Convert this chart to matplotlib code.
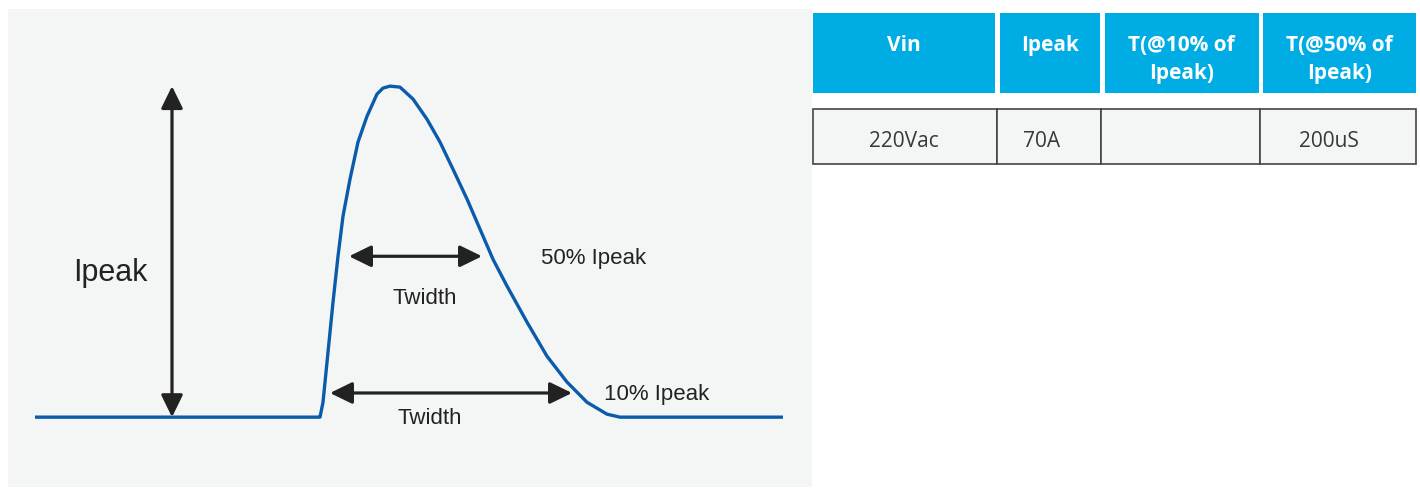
import matplotlib
matplotlib.use("Agg")
import matplotlib.pyplot as plt
from matplotlib.patches import Rectangle

plt.rcParams['font.family'] = ['Liberation Sans', 'DejaVu Sans']

# pulse shape, time (arbitrary units from pulse start) vs current (% of Ipeak)
pulse_t = [-283, 0, 2, 5, 10, 15, 20, 25, 32, 40, 49, 59, 65, 72, 82, 95, 109,
           122, 135, 149, 165, 175, 189, 209, 229, 249, 269, 289, 302, 465]
pulse_i = [0, 0, 0, 4.5, 19.6, 34.7, 48.6, 60.7, 71.9, 83.1, 90.9, 97.6, 99.4,
           100, 99.7, 96.1, 90.0, 83.1, 74.9, 65.9, 54.7, 47.7, 39.6, 28.7,
           18.4, 10.6, 4.5, 0.9, 0, 0]

# table contents
headers = ["Vin", "Ipeak", "T(@10% of\nIpeak)", "T(@50% of\nIpeak)"]
row = ["220Vac", "70A", "", "200uS"]

W, H = 1420, 489
fig = plt.figure(figsize=(W / 100, H / 100), dpi=100)

# ---- left panel: pulse sketch
ax = fig.add_axes([8 / W, 1 - 488 / H, 804 / W, 478 / H])
ax.set_facecolor("#f4f6f6")
ax.set_xlim(-310, 494)
ax.set_ylim(-21.1, 123.3)
for s in ax.spines.values():
    s.set_visible(False)
ax.set_xticks([])
ax.set_yticks([])

ax.plot(pulse_t, pulse_i, color="#0b5bab", lw=2.4, solid_joinstyle="round",
        solid_capstyle="butt")

arrow = dict(arrowstyle="<|-|>,head_length=0.45,head_width=0.22",
             color="#222222", lw=2.3, mutation_scale=30, shrinkA=0, shrinkB=0)
ax.annotate("", xy=(-146, 100), xytext=(-146, 0), arrowprops=arrow)
ax.annotate("", xy=(31, 48.6), xytext=(164, 48.6), arrowprops=arrow)
ax.annotate("", xy=(12, 7.3), xytext=(254, 7.3), arrowprops=arrow)

txt = dict(color="#222222", ha="center", va="center")
ax.text(-208, 43.8, "Ipeak", fontsize=22, **txt)
ax.text(276, 48.3, "50% Ipeak", fontsize=16, **txt)
ax.text(107, 36.0, "Twidth", fontsize=16, **txt)
ax.text(112, 0, "Twidth", fontsize=16, **txt)
ax.text(339, 7.0, "10% Ipeak", fontsize=16, **txt)

# ---- right panel: table
tx = fig.add_axes([0, 0, 1, 1], facecolor="none")
tx.set_xlim(0, W)
tx.set_ylim(H, 0)
tx.axis("off")

head_cols = [(813, 995), (999.5, 1100), (1104.5, 1258.5), (1263, 1416)]
body_cols = [(813, 997), (997, 1101), (1101, 1260), (1260, 1416)]
body_x = [903.5, 1042, 1180, 1329]

for (x0, x1), label in zip(head_cols, headers):
    tx.add_patch(Rectangle((x0, 13.5), x1 - x0, 80.5, color="#00ace4", lw=0))
    cy = 59.5 if "\n" in label else 45.5
    tx.text((x0 + x1) / 2, cy, label, color="white", fontsize=15,
            fontweight="bold", ha="center", va="center", linespacing=1.42,
            family=["Open Sans", "DejaVu Sans"])

for (x0, x1), cx, val in zip(body_cols, body_x, row):
    tx.add_patch(Rectangle((x0, 110), x1 - x0, 55, facecolor="#f4f6f6",
                           edgecolor="#444444", lw=1.2))
    tx.text(cx, 141.5, val, color="#383838", fontsize=15, ha="center",
            va="center", family=["Open Sans", "DejaVu Sans"])

fig.savefig("out.png", dpi=100)
